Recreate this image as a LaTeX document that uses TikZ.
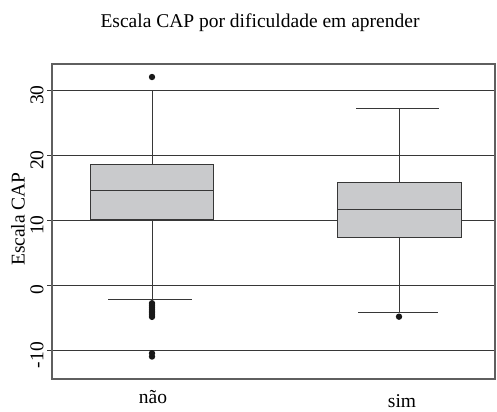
\documentclass[tikz,border=0pt]{standalone}
\usepackage{fontspec}
\setmainfont{Liberation Serif}
\usepackage{tikz}
\usepackage{xcolor}

\definecolor{boxgray}{RGB}{201,202,204}
\definecolor{linegray}{RGB}{55,55,55}
\definecolor{framegray}{RGB}{95,95,95}

\begin{document}
\begin{tikzpicture}[x=1pt, y=6.5pt]
\tikzset{
  gridline/.style={linegray, line width=0.9pt},
  framebox/.style={framegray, line width=1.1pt},
  boxplot/.style={draw=linegray, fill=boxgray, line width=1pt},
  whisker/.style={linegray, line width=1pt},
  outlier/.style={fill=black!90},
  axlabel/.style={font=\fontsize{19.5}{22}\selectfont, inner sep=0pt}
}
\useasboundingbox (0,-19.385) rectangle (497,43.85);

% Frame and grid
\foreach \v in {-10,0,10,20,30}{
  \draw[gridline] (47,\v) -- (495,\v);
  \node[axlabel, rotate=90] (tick\v) at (37,\v-0.77) {\v};
}
\draw[framebox] (52,-14.46) rectangle (495,34);

% Title and axis labels
\node[axlabel, anchor=base] (title) at (260,39.69) {Escala CAP por dificuldade em aprender};
\node[axlabel, rotate=90] (ylab) at (18,10.15) {Escala CAP};
\node[axlabel, anchor=base] (nao) at (153,-18.15) {não};
\node[axlabel, anchor=base] (sim) at (402,-18.88) {sim};

% Group "nao"
\draw[whisker] (152,18.57) -- (152,30);
\draw[whisker] (152,10.1) -- (152,-2.2);
\draw[whisker] (108,30) -- (194,30);
\draw[whisker] (108,-2.2) -- (192,-2.2);
\draw[boxplot] (90,10.1) rectangle (213,18.57);
\draw[whisker] (90,14.5) -- (213,14.5);
\fill[outlier] (152,32) circle (3.2pt);
\foreach \o in {-2.8,-3.1,-3.4,-3.7,-4.0,-4.3,-4.6,-4.9}
  \fill[outlier] (152,\o) circle (3.2pt);
\fill[outlier] (152,-10.5) circle (3.2pt);
\fill[outlier] (152,-11.0) circle (3.2pt);

% Group "sim"
\draw[whisker] (399,15.7) -- (399,27.1);
\draw[whisker] (399,7.3) -- (399,-4.2);
\draw[whisker] (356,27.1) -- (439,27.1);
\draw[whisker] (358,-4.2) -- (438,-4.2);
\draw[boxplot] (337,7.3) rectangle (461,15.7);
\draw[whisker] (337,11.6) -- (461,11.6);
\fill[outlier] (399,-4.87) circle (3.2pt);
\end{tikzpicture}
\end{document}
